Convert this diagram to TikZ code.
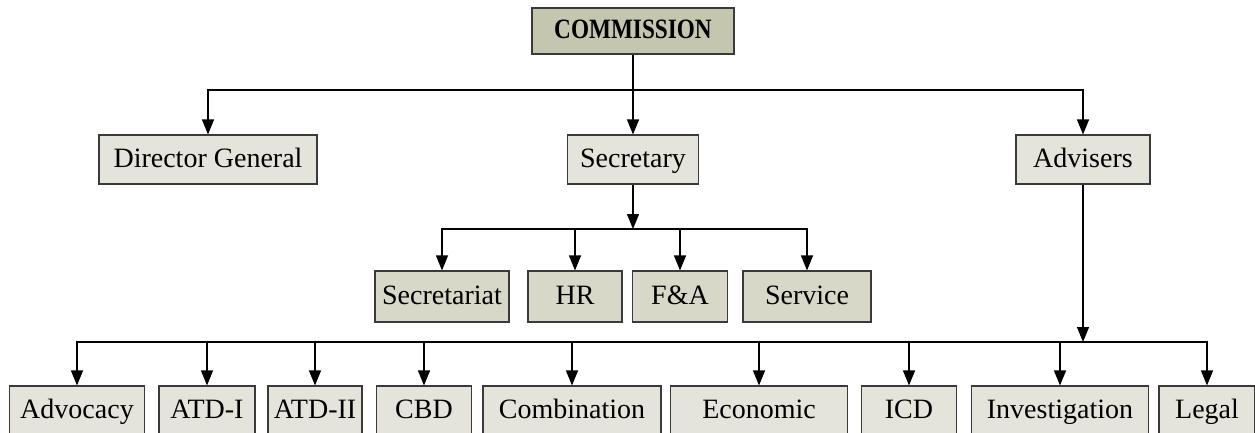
\documentclass[tikz,border=0pt]{standalone}
\usepackage{fontspec}
\setmainfont{Liberation Serif}
\usetikzlibrary{arrows.meta}
\definecolor{topfill}{HTML}{C4C6B0}
\definecolor{lightfill}{HTML}{E4E4DA}
\definecolor{midfill}{HTML}{D7D8C8}
\definecolor{boxline}{HTML}{3A3A3A}
\begin{document}
\begin{tikzpicture}[x=1pt,y=-1pt,
  box/.style={draw=boxline,line width=1.1pt,inner sep=0pt,minimum height=#1,
    text height=20pt,text depth=4.5pt,
    font=\fontsize{28}{32}\selectfont},
  box/.default=49pt,
  conn/.style={line width=1.3pt,black},
  arr/.style={conn,-{Triangle[length=15pt,width=12pt]}}]
\useasboundingbox (0,0) rectangle (1255,433);
\clip (0,0) rectangle (1255,433);
% level 0
\node[box=46pt,fill=topfill,minimum width=202pt] (comm) at (633,31)
  {\scalebox{0.83}[1]{\bfseries COMMISSION}};
% level 1
\node[box,fill=lightfill,minimum width=218pt] (dg) at (208,159.5) {Director General};
\node[box,fill=lightfill,minimum width=131pt] (sec) at (633,159.5) {Secretary};
\node[box,fill=lightfill,minimum width=134pt] (adv) at (1083,159.5) {Advisers};
% level 2 (secretary)
\node[box=51pt,fill=midfill,minimum width=134pt] (sct) at (442,296.5) {Secretariat};
\node[box=51pt,fill=midfill,minimum width=94pt] (hr) at (575,296.5) {HR};
\node[box=51pt,fill=midfill,minimum width=95pt] (fa) at (680,296.5) {F\&A};
\node[box=51pt,fill=midfill,minimum width=128pt] (srv) at (807,296.5) {Service};
% level 3 (advisers)
\node[box=50pt,fill=lightfill,minimum width=135pt] (advo) at (77,411) {Advocacy};
\node[box=50pt,fill=lightfill,minimum width=96pt] (atd1) at (207,411) {ATD-I};
\node[box=50pt,fill=lightfill,minimum width=94pt] (atd2) at (315,411) {ATD-II};
\node[box=50pt,fill=lightfill,minimum width=95pt] (cbd) at (424,411) {CBD};
\node[box=50pt,fill=lightfill,minimum width=178pt] (comb) at (572,411) {Combination};
\node[box=50pt,fill=lightfill,minimum width=177pt] (eco) at (759,411) {Economic};
\node[box=50pt,fill=lightfill,minimum width=95pt] (icd) at (909,411) {ICD};
\node[box=50pt,fill=lightfill,minimum width=177pt] (inv) at (1060,411) {Investigation};
\node[box=50pt,fill=lightfill,minimum width=96pt] (leg) at (1207,411) {Legal};
% connectors
\coordinate (b1) at (633,90);
\coordinate (b2) at (633,229);
\coordinate (b3) at (1083,342);
\draw[conn] (comm) -- (b1);
\draw[arr] (b1) -| (dg);
\draw[arr] (b1) -- (sec);
\draw[arr] (b1) -| (adv);
\draw[arr] (sec) -- (b2);
\draw[arr] (b2) -| (sct);
\draw[arr] (b2) -| (hr);
\draw[arr] (b2) -| (fa);
\draw[arr] (b2) -| (srv);
\draw[arr] (adv) -- (b3);
\foreach \n in {advo,atd1,atd2,cbd,comb,eco,icd,inv,leg}
  \draw[arr] (b3) -| (\n);
\end{tikzpicture}
\end{document}
